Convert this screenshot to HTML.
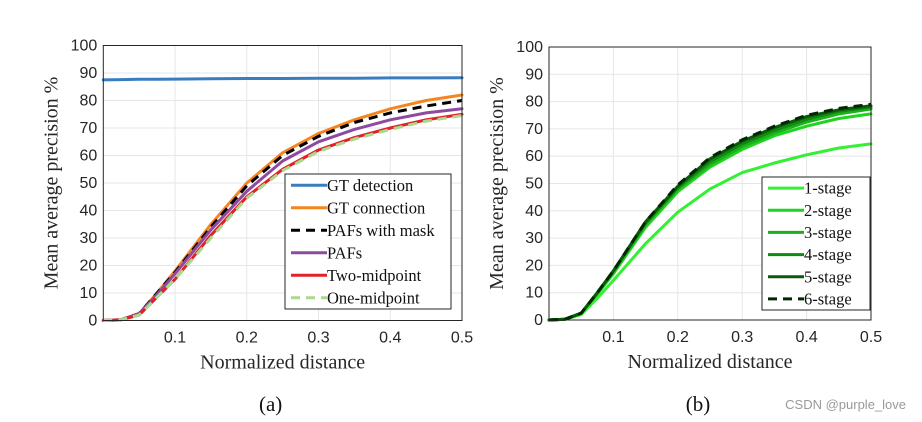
<!DOCTYPE html>
<html><head><meta charset="utf-8">
<style>
body{margin:0;background:#fff;width:922px;height:422px;overflow:hidden}
svg{display:block}
.tick{font-family:"Liberation Sans",sans-serif;font-size:16px;fill:#262626}
.ser{font-family:"Liberation Serif",serif}
</style></head><body>
<svg id="chart" width="922" height="422" viewBox="0 0 922 422" xmlns="http://www.w3.org/2000/svg"></svg>
<script>
const xVals=[0,0.025,0.05,0.075,0.1,0.15,0.2,0.25,0.3,0.35,0.4,0.45,0.5];
const xTicks=[0.1,0.2,0.3,0.4,0.5];
const yTicks=[0,10,20,30,40,50,60,70,80,90,100];
const namesA=["GT detection","GT connection","PAFs with mask","PAFs","Two-midpoint","One-midpoint"];
const gtDetection=[87.5,87.6,87.7,87.7,87.8,87.9,88,88,88.1,88.1,88.2,88.2,88.3];
const gtConnection=[0,0.3,2.5,10,18,35,50,61,68,73,77,80,82];
const pafsMask=[0,0.3,2.5,10,17.5,34,49,60,67,72,75.5,78,80];
const pafs=[0,0.3,2.5,9.5,17,33,47,58,65,69.5,73,75.5,77];
const twoMid=[0,0.3,2,8.5,15,31,45,55,62,66.5,70,73,75];
const oneMid=[0,0.3,2,8.5,15,30,44.5,54.5,61.5,66,69.5,72.5,74.5];
const namesB=["1-stage","2-stage","3-stage","4-stage","5-stage","6-stage"];
const stage1=[0,0.3,2,8,14.5,28,39.5,48,54,57.5,60.5,63,64.5];
const stage2=[0,0.3,2.5,9.5,17,34,47,56,62.5,67.5,71,73.8,75.5];
const stage3=[0,0.3,2.5,9.8,17.5,35,48,57,63.5,68.5,72.5,75.5,77.3];
const stage4=[0,0.3,2.5,10,18,35.5,48.5,58,64.5,69.5,73.5,76.5,78];
const stage5=[0,0.3,2.5,10,18,36,49,59,65.5,70.5,74.5,77,78.5];
const stage6=[0,0.3,2.5,10,18,36,49.5,59.5,66,71,75,77.5,79];

const NS="http://www.w3.org/2000/svg";
const svg=document.getElementById('chart');
function mk(tag,attrs,parent){const e=document.createElementNS(NS,tag);for(const k in attrs)e.setAttribute(k,attrs[k]);(parent||svg).appendChild(e);return e;}

function panel(p){
  const g=mk('g',{});
  
  
  const sx=v=>p.x0+(v/0.5)*(p.x1-p.x0);
  const sy=v=>p.y0-(v/100)*(p.y0-p.y1);
  xTicks.forEach(t=>{const l=mk('line',{x1:sx(t),x2:sx(t),y1:p.y1,y2:p.y0,stroke:'#e6e6e6','stroke-width':1},g);
    });
  yTicks.forEach(t=>{const l=mk('line',{x1:p.x0,x2:p.x1,y1:sy(t),y2:sy(t),stroke:'#e6e6e6','stroke-width':1},g);
    });
  p.series.forEach((s,i)=>{
    const d=s.vals.map((v,j)=>(j?'L':'M')+sx(xVals[j]).toFixed(1)+','+sy(v).toFixed(1)).join('');
    const a={d:d,fill:'none',stroke:s.c,'stroke-width':3,'stroke-linejoin':'round','stroke-linecap':s.dash?'butt':'round'};
    if(s.dash)a['stroke-dasharray']='9,6';
    const path=mk('path',a,g);
    
    
  });
  const box=mk('rect',{x:p.x0,y:p.y1,width:p.x1-p.x0,height:p.y0-p.y1,fill:'none',stroke:'#262626','stroke-width':1},g);
  
  xTicks.forEach(t=>{const tx=mk('text',{x:sx(t),y:p.y0+22,'text-anchor':'middle',class:'tick'},g);tx.textContent=t.toFixed(1);
    });
  yTicks.forEach(t=>{const tx=mk('text',{x:p.x0-6,y:sy(t)+5,'text-anchor':'end',class:'tick'},g);tx.textContent=t;
    });
  const xt=mk('text',{x:(p.x0+p.x1)/2,y:p.y0+48,'text-anchor':'middle',class:'ser','font-size':20,fill:'#262626'},g);
  xt.textContent='Normalized distance';
  const yt=mk('text',{x:0,y:0,'text-anchor':'middle',class:'ser','font-size':20,fill:'#262626',transform:`translate(${p.x0-46},${(p.y0+p.y1)/2}) rotate(-90)`},g);
  yt.textContent='Mean average precision %';
  const L=p.leg;
  const lg=mk('g',{},g);
  mk('rect',{x:L.x,y:L.y,width:L.w,height:L.h,fill:'#fff',stroke:'#262626','stroke-width':1},lg);
  const rowH=L.h/p.series.length;
  p.series.forEach((s,i)=>{
    const cy=L.y+rowH*(i+0.5);
    const a={x1:L.x+6,x2:L.x+6+L.line,y1:cy,y2:cy,stroke:s.c,'stroke-width':3};
    if(s.dash)a['stroke-dasharray']='9,6';
    const ln=mk('line',a,lg);
    const tx=mk('text',{x:L.x+6+L.line,y:cy+5.5,class:'ser','font-size':16.5,fill:'#111'},lg);
    tx.textContent=s.n;
  });
  const cap=mk('text',{x:(p.x0+p.x1)/2-12,y:411,'text-anchor':'middle',class:'ser','font-size':21,fill:'#111'},g);
  cap.textContent=p.cap;
}
const dataA=[gtDetection,gtConnection,pafsMask,pafs,twoMid,oneMid];
const colA=['#3a7dbf','#f5861f','#000','#8e4a9e','#e12127','#a9d98c'];
panel({id:'panel-a',x0:103.3,x1:462,y0:320.5,y1:45.5,cap:'(a)',
  leg:{x:285,y:174,w:166,h:135,line:36},
  series:dataA.map((v,i)=>({n:namesA[i],vals:v,c:colA[i],dash:i==2||i==5}))});
const dataB=[stage1,stage2,stage3,stage4,stage5,stage6];
const colB=['#33f033','#1fd41f','#1cb01c','#108a10','#0a5a0a','#022802'];
panel({id:'panel-b',x0:549,x1:871,y0:320,y1:47,cap:'(b)',
  leg:{x:762,y:177,w:108,h:133,line:36},
  series:dataB.map((v,i)=>({n:namesB[i],vals:v,c:colB[i],dash:i==5}))});
const wm=mk('text',{x:906,y:409,'text-anchor':'end','font-family':'Liberation Sans, sans-serif','font-size':13,fill:'#9a9a9a'});
wm.textContent='CSDN @purple_love';


</script>
</body></html>
